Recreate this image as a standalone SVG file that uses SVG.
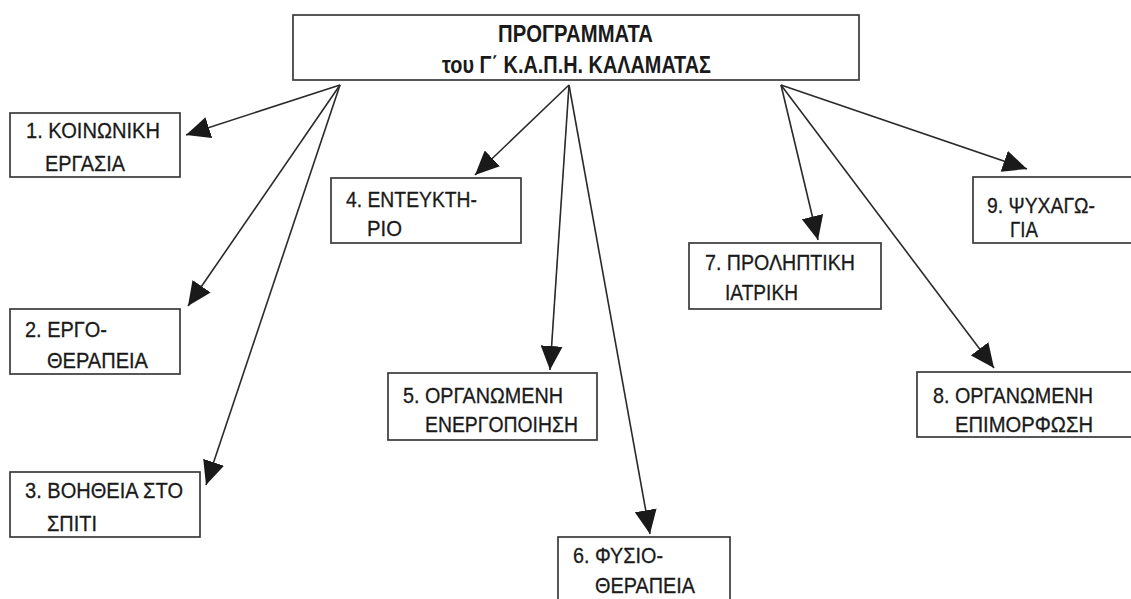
<svg xmlns="http://www.w3.org/2000/svg" width="1131" height="599" viewBox="0 0 1131 599">
<defs>
<style>
.box{fill:#fff;stroke:#3a3a3a;stroke-width:1.7}
.t{font-family:"Liberation Sans",Arial,sans-serif;font-size:22px;fill:#1a1a1a;stroke:#1a1a1a;stroke-width:0.3}
.h{font-family:"Liberation Sans",Arial,sans-serif;font-size:23px;font-weight:bold;fill:#1a1a1a}
.c{stroke:#2a2a2a;stroke-width:1.6;fill:none;marker-end:url(#ah)}
</style>
<marker id="ah" viewBox="0 0 24 22" refX="24" refY="11" markerWidth="24" markerHeight="22" markerUnits="userSpaceOnUse" orient="auto">
<path d="M0,0 L24,11 L0,22 Z" fill="#1a1a1a"/>
</marker>
</defs>
<rect width="1131" height="599" fill="#fff"/>
<g id="top">
<rect class="box" x="293" y="15" width="566" height="65"/>
<text class="h" x="498" y="42" textLength="155" lengthAdjust="spacingAndGlyphs">ΠΡΟΓΡΑΜΜΑΤΑ</text>
<text class="h" x="442" y="73" textLength="269" lengthAdjust="spacingAndGlyphs">του Γ΄ Κ.Α.Π.Η. ΚΑΛΑΜΑΤΑΣ</text>
</g>
<g id="connectors">
<line class="c" x1="340" y1="85" x2="186" y2="135"/>
<line class="c" x1="340" y1="85" x2="188" y2="306"/>
<line class="c" x1="340" y1="85" x2="206" y2="485"/>
<line class="c" x1="569" y1="85" x2="475" y2="175"/>
<line class="c" x1="569" y1="85" x2="550" y2="370"/>
<line class="c" x1="569" y1="85" x2="650" y2="534"/>
<line class="c" x1="781" y1="85" x2="818" y2="240"/>
<line class="c" x1="781" y1="85" x2="994" y2="368"/>
<line class="c" x1="781" y1="85" x2="1027" y2="169"/>
</g>
<g id="n1">
<rect class="box" x="10" y="113" width="170" height="64"/>
<text class="t" x="26" y="138" textLength="134" lengthAdjust="spacingAndGlyphs">1. ΚΟΙΝΩΝΙΚΗ</text>
<text class="t" x="45" y="171" textLength="80" lengthAdjust="spacingAndGlyphs">ΕΡΓΑΣΙΑ</text>
</g>
<g id="n2">
<rect class="box" x="10" y="309" width="170" height="65"/>
<text class="t" x="25" y="337" textLength="82" lengthAdjust="spacingAndGlyphs">2. ΕΡΓΟ-</text>
<text class="t" x="47" y="368" textLength="101" lengthAdjust="spacingAndGlyphs">ΘΕΡΑΠΕΙΑ</text>
</g>
<g id="n3">
<rect class="box" x="10" y="472" width="190" height="65"/>
<text class="t" x="25" y="498" textLength="158" lengthAdjust="spacingAndGlyphs">3. ΒΟΗΘΕΙΑ ΣΤΟ</text>
<text class="t" x="47" y="531" textLength="50" lengthAdjust="spacingAndGlyphs">ΣΠΙΤΙ</text>
</g>
<g id="n4">
<rect class="box" x="331" y="178" width="190" height="65"/>
<text class="t" x="346" y="207" textLength="131" lengthAdjust="spacingAndGlyphs">4. ΕΝΤΕΥΚΤΗ-</text>
<text class="t" x="367" y="236" textLength="35" lengthAdjust="spacingAndGlyphs">ΡΙΟ</text>
</g>
<g id="n5">
<rect class="box" x="388" y="373" width="209" height="67"/>
<text class="t" x="403" y="403" textLength="160" lengthAdjust="spacingAndGlyphs">5. ΟΡΓΑΝΩΜΕΝΗ</text>
<text class="t" x="425" y="432" textLength="153" lengthAdjust="spacingAndGlyphs">ΕΝΕΡΓΟΠΟΙΗΣΗ</text>
</g>
<g id="n6">
<rect class="box" x="558" y="537" width="172" height="72"/>
<text class="t" x="573" y="563" textLength="90" lengthAdjust="spacingAndGlyphs">6. ΦΥΣΙΟ-</text>
<text class="t" x="595" y="593" textLength="100" lengthAdjust="spacingAndGlyphs">ΘΕΡΑΠΕΙΑ</text>
</g>
<g id="n7">
<rect class="box" x="689" y="243" width="192" height="66"/>
<text class="t" x="705" y="270" textLength="150" lengthAdjust="spacingAndGlyphs">7. ΠΡΟΛΗΠΤΙΚΗ</text>
<text class="t" x="725" y="300" textLength="73" lengthAdjust="spacingAndGlyphs">ΙΑΤΡΙΚΗ</text>
</g>
<g id="n8">
<rect class="box" x="917" y="372" width="230" height="65"/>
<text class="t" x="933" y="403" textLength="160" lengthAdjust="spacingAndGlyphs">8. ΟΡΓΑΝΩΜΕΝΗ</text>
<text class="t" x="955" y="432" textLength="138" lengthAdjust="spacingAndGlyphs">ΕΠΙΜΟΡΦΩΣΗ</text>
</g>
<g id="n9">
<rect class="box" x="973" y="177" width="180" height="66"/>
<text class="t" x="987" y="213" textLength="108" lengthAdjust="spacingAndGlyphs">9. ΨΥΧΑΓΩ-</text>
<text class="t" x="1010" y="237" textLength="28" lengthAdjust="spacingAndGlyphs">ΓΙΑ</text>
</g>
</svg>
